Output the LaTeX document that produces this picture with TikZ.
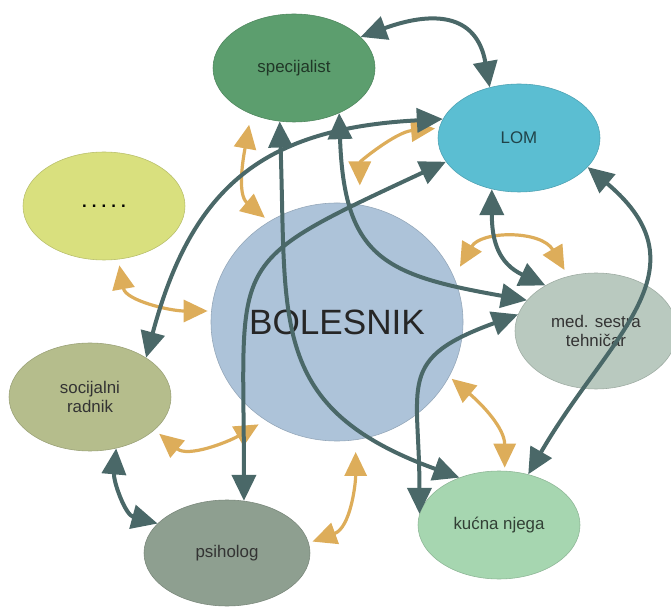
\documentclass[tikz,border=0pt]{standalone}
\usepackage{fontspec}
\setsansfont{Liberation Sans}
\usetikzlibrary{
  shapes.geometric, % Shape "ellipse"
  arrows.meta,      % Tip "Triangle"
}
\definecolor{linkgray}{HTML}{4A6868}
\definecolor{careorange}{HTML}{DDAD5A}
\definecolor{specfill}{HTML}{5C9E6E}
\definecolor{lomfill}{HTML}{5BBED2}
\definecolor{dotsfill}{HTML}{D9E07E}
\definecolor{bolfill}{HTML}{ADC3D9}
\definecolor{medfill}{HTML}{B9C9BF}
\definecolor{socfill}{HTML}{B5BD8C}
\definecolor{psifill}{HTML}{8E9F90}
\definecolor{kucfill}{HTML}{A6D6B0}
\def\mywidth{40.5mm}
\def\myheight{27mm}
\def\mydot{.\hspace{3.6pt}}
\tikzset{
  font=\sffamily,
  my ellipse/.style={
    ellipse,
    draw=#1!85!black,
    fill=#1,
    line width=0.4pt,
    minimum width=\mywidth,
    minimum height=\myheight,
    inner sep=0mm,
    align=center,
    text=black!80,
    font=\sffamily\fontsize{12}{14}\selectfont
  },
  my link/.style={
    draw=linkgray,
    line width=1mm,
    >={Triangle[length=6.5mm,width=6mm]},
    <->
  },
  my care/.style={
    draw=careorange,
    line width=0.8mm,
    >={Triangle[length=6mm,width=5.5mm]},
    <->
  }
}

\begin{document}
\begin{tikzpicture}[x=0.25mm,y=0.25mm]
\useasboundingbox (0,0) rectangle (671,606);
\node[my ellipse=specfill,text=specfill!35!black] (spec) at (294,538) {specijalist};
\node[my ellipse=lomfill,text=lomfill!35!black]   (lom)  at (519,468) {LOM};
\node[my ellipse=dotsfill,text=black]             (dots) at (104,400) {\textbf{\mydot\mydot\mydot\mydot.}};
\node[my ellipse=bolfill,minimum width=63mm,minimum height=59.5mm,
      text=black!85,font=\sffamily\fontsize{25}{30}\selectfont]
                                                   (bol)  at (337,284) {BOLESNIK};
\node[my ellipse=medfill,minimum height=29mm]      (med)  at (596,275) {med. sestra\\tehničar};
\node[my ellipse=socfill]                          (soc)  at (90,209)  {socijalni\\radnik};
\node[my ellipse=psifill,minimum width=41.5mm,minimum height=26.5mm]
                                                   (psi)  at (227,53)  {psiholog};
\node[my ellipse=kucfill,text=kucfill!30!black]    (kuc)  at (499,81)  {kućna njega};

% orange links to the patient
\path (spec.227) edge[my care,out=-100,in=140,shorten <=2.7mm,shorten >=1.4mm] (bol.124)
      (lom.173)  edge[my care,out=185,in=90,shorten <=1mm,shorten >=4.8mm]     (bol.79)
      (bol.21)   edge[my care,out=60,in=120,looseness=1.2,
                      shorten <=3mm,shorten >=1.8mm]                        (med.117)
      (bol.-26)  edge[my care,out=-40,in=90,shorten <=0.8mm,shorten >=0.8mm]   (kuc.84)
      (dots.-75) edge[my care,out=-80,in=180,shorten <=1.5mm,shorten >=0.9mm]  (bol.175)
      (soc.-27)  edge[my care,out=-40,in=210,shorten <=1.5mm,shorten >=2mm]    (bol.234)
      (psi.7)    edge[my care,out=20,in=-90,shorten <=1mm,shorten >=3mm]      (bol.279);

% dark links between the carers
\path (spec.25)   edge[my link,out=20,in=100,looseness=1.4]  (lom.120)
      (spec.-45)  edge[my link,out=-88,in=170,looseness=1.4] (med.156)
      (spec.-105) edge[my link,out=-88,in=160,looseness=1.3] (kuc.130)
      (lom.166)   edge[my link,out=183,in=75,looseness=1.2]  (soc.35)
      (psi.72)    edge[my link,out=90,in=205,looseness=1.6]  (lom.198)
      (lom.242)   edge[my link,out=-90,in=155,looseness=1.2] (med.138)
      (lom.-23)   edge[my link,out=-40,in=60,looseness=1.3]  (kuc.60)
      (kuc.172)   edge[my link,out=90,in=200,looseness=1.5]  (med.168)
      (soc.-63)   edge[my link,out=-95,in=165]               (psi.157);
\end{tikzpicture}
\end{document}
